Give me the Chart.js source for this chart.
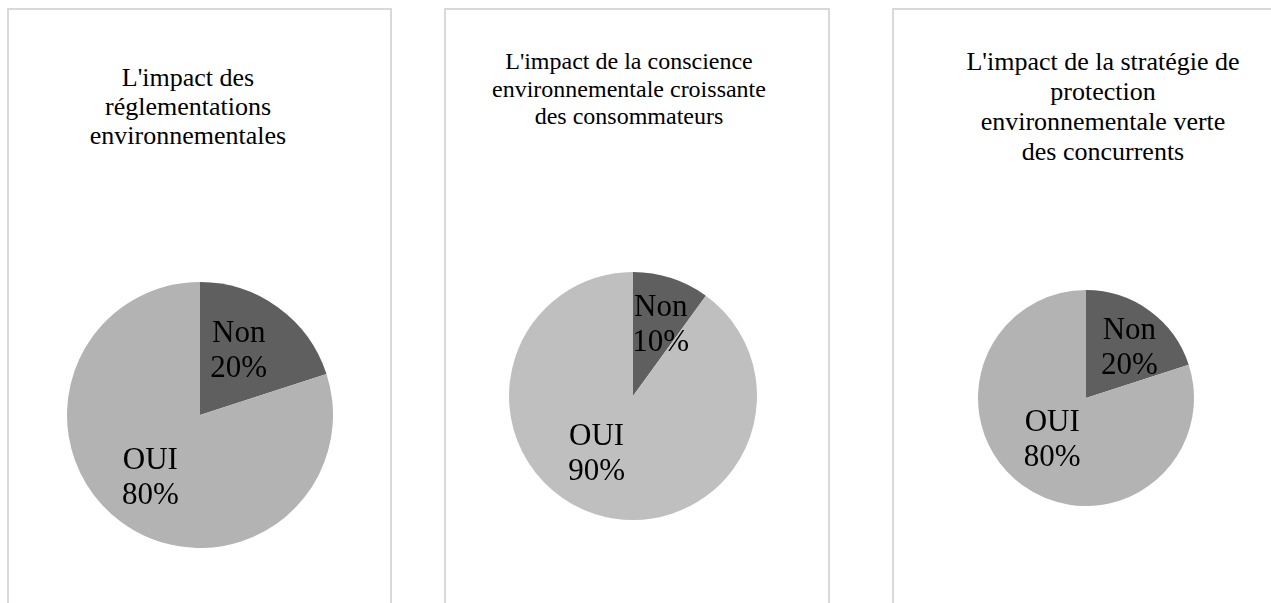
<!DOCTYPE html>
<html>
<head>
<meta charset="utf-8">
<script src="https://cdn.jsdelivr.net/npm/chart.js@4/dist/chart.umd.min.js"></script>
<style>
  html, body { margin:0; padding:0; background:#fff; width:1271px; height:603px; overflow:hidden; }
  .panel { position:absolute; border:2px solid #d9d9d9; box-sizing:border-box; background:#fff; }
  .title { position:absolute; font-family:'Liberation Serif','Times New Roman',serif; color:#000;
           text-align:center; white-space:pre; width:400px; }
  canvas { position:absolute; }
</style>
</head>
<body>
<div class="panel" style="left:7px; top:8px; width:385px; height:640px;"></div>
<div class="panel" style="left:444px; top:8px; width:386px; height:640px;"></div>
<div class="panel" style="left:892px; top:8px; width:400px; height:640px;"></div>

<div class="title" id="t1" style="left:-12px; top:63px; font-size:26px; line-height:29px;"></div>
<div class="title" id="t2" style="left:429px; top:48px; font-size:24px; line-height:27.5px;"></div>
<div class="title" id="t3" style="left:903px; top:47px; font-size:26px; line-height:30px;"></div>

<canvas id="c1" width="266" height="266" style="left:67px; top:282px;"></canvas>
<canvas id="c2" width="248" height="248" style="left:509px; top:272px;"></canvas>
<canvas id="c3" width="216" height="216" style="left:978px; top:290px;"></canvas>

<script>
// ---- Data ----
const categories = ['Non', 'OUI'];
const titleReglementations = "L'impact des\nréglementations\nenvironnementales";
const titleConscience = "L'impact de la conscience\nenvironnementale croissante\ndes consommateurs";
const titleConcurrents = "L'impact de la stratégie de\nprotection\nenvironnementale verte\ndes concurrents";
const valuesReglementations = [20, 80];
const valuesConscience = [10, 90];
const valuesConcurrents = [20, 80];

document.getElementById('t1').textContent = titleReglementations;
document.getElementById('t2').textContent = titleConscience;
document.getElementById('t3').textContent = titleConcurrents;

const sliceLabels = {
  id: 'sliceLabels',
  afterDatasetsDraw(chart, args, opts) {
    const ctx = chart.ctx;
    const meta = chart.getDatasetMeta(0);
    const data = chart.data.datasets[0].data;
    ctx.save();
    ctx.font = opts.font;
    ctx.fillStyle = '#000';
    ctx.textAlign = 'center';
    ctx.textBaseline = 'middle';
    meta.data.forEach((arc, i) => {
      const p = arc.getProps(['x','y','startAngle','endAngle','outerRadius'], true);
      const mid = (p.startAngle + p.endAngle) / 2;
      const d = p.outerRadius * opts.radial[i];
      const sh = opts.shift[i];
      const cx = p.x + Math.cos(mid) * d + sh[0];
      const cy = p.y + Math.sin(mid) * d + sh[1];
      const lh = opts.lineHeight;
      ctx.fillText(chart.data.labels[i], cx, cy - lh / 2);
      ctx.fillText(data[i] + '%', cx, cy + lh / 2);
    });
    ctx.restore();
  }
};

function makePie(id, values, colors, radial, shift) {
  return new Chart(document.getElementById(id), {
    type: 'pie',
    data: {
      labels: categories,
      datasets: [{ data: values, backgroundColor: colors, borderWidth: 0 }]
    },
    options: {
      responsive: false,
      animation: false,
      layout: { padding: 0 },
      plugins: {
        legend: { display: false },
        tooltip: { enabled: false },
        sliceLabels: {
          font: "31px 'Liberation Serif', 'Times New Roman', serif",
          lineHeight: 35,
          radial: radial,
          shift: shift
        }
      }
    },
    plugins: [sliceLabels]
  });
}

makePie('c1', valuesReglementations, ['#5f5f5f', '#b3b3b3'], [0.56, 0.61], [[-5, -3], [-2, -2]]);
makePie('c2', valuesConscience, ['#5f5f5f', '#bfbfbf'], [0.62, 0.56], [[4, 2], [-15, -8]]);
makePie('c3', valuesConcurrents, ['#5f5f5f', '#b3b3b3'], [0.62, 0.5], [[4, 5], [-2, -1]]);
</script>
</body>
</html>
